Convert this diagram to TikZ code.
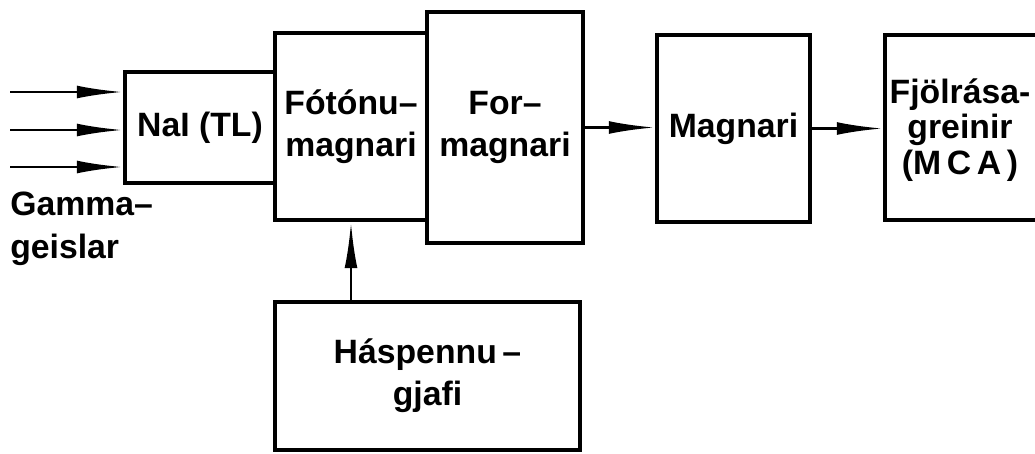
\documentclass[tikz,border=0pt]{standalone}
\usepackage{fontspec}
\setmainfont{Liberation Sans}
\usetikzlibrary{arrows.meta}
\tikzset{
  blokk/.style={draw,line width=3pt,inner sep=0pt,align=center,font=\bfseries\fontsize{24}{30}\selectfont},
  merki/.style={inner sep=0pt,font=\bfseries\fontsize{24}{30}\selectfont},
  pil/.style={line width=2pt,-{Latex[length=1.15cm,width=0.32cm]}},
}
\begin{document}
\begin{tikzpicture}[x=0.025cm,y=-0.025cm]
\useasboundingbox (0,0) rectangle (1035,454);
\clip (0,0) rectangle (1035,454);
\node[blokk,minimum width=3.75cm,minimum height=2.775cm] (nai) at (200,127.5) {NaI (TL)};
\node[blokk,minimum width=3.8cm,minimum height=4.675cm] (foton) at (351,126.5) {Fótónu--\\magnari};
\node[blokk,minimum width=3.9cm,minimum height=5.775cm] (for) at (505,127.5) {For--\\magnari};
\node[blokk,minimum width=3.825cm,minimum height=4.675cm] (mag) at (733.5,128.5) {Magnari};
\node[blokk,minimum width=4.375cm,minimum height=4.625cm] (mca) at (972.5,127.5) {};
\node[merki,align=center,font=\bfseries\fontsize{24}{25}\selectfont] (mcatext) at (960,130) {Fjölrása-\\greinir\\(M\,C\,A\,)};
\node[blokk,minimum width=7.625cm,minimum height=3.7cm] (hv) at (427.5,376) {Háspennu\,--\\gjafi};
\node[merki,anchor=north west,align=left] (gamma) at (10,192) {Gamma--\\geislar};
\coordinate (g1) at (10,92);
\coordinate (g2) at (10,130);
\coordinate (g3) at (10,167);
\draw[pil] (g1) -- (g1 -| nai.west);
\draw[pil] (g2) -- (g2 -| nai.west);
\draw[pil] (g3) -- (g3 -| nai.west);
\draw[pil] (for.east) -- (for.east -| mag.west);
\draw[pil] (mag.east) -- (mag.east -| mca.west);
\draw[pil] (hv.north -| foton.south) -- (foton.south);
\end{tikzpicture}
\end{document}
